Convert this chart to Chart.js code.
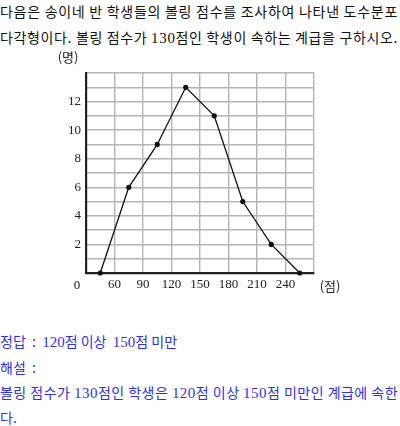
<!DOCTYPE html>
<html><head><meta charset="utf-8">
<script src="https://cdn.jsdelivr.net/npm/chart.js@4"></script>
<style>
html,body{margin:0;padding:0;background:#fff;}
body{width:400px;height:426px;position:relative;overflow:hidden;font-family:"Noto Sans CJK KR",sans-serif;}
.t{position:absolute;left:0;white-space:nowrap;font-size:14px;line-height:1;}
.s{font-family:"Liberation Serif","DejaVu Serif",serif;font-size:15px;}
.b{color:#2f2ff0;}
#wrap{position:absolute;left:0;top:0;width:400px;height:320px;}
</style></head><body>
<div class="t" id="l1" style="top:4px;color:#111">다음은 송이네 반 학생들의 볼링 점수를 조사하여 나타낸 도수분포</div>
<div class="t" id="l2" style="top:30px;color:#111">다각형이다. 볼링 점수가 <span class="s">130</span>점인 학생이 속하는 계급을 구하시오.</div>
<div id="wrap"><canvas id="c" width="400" height="320"></canvas></div>
<div class="t b" style="top:334px">정답 &nbsp;:&nbsp; <span class="s">120</span>점 이상 &nbsp;<span class="s">150</span>점 미만</div>
<div class="t b" style="top:360px">해설 &nbsp;:</div>
<div class="t b" id="l5" style="top:385px">볼링 점수가 <span class="s">130</span>점인 학생은 <span class="s">120</span>점 이상 <span class="s">150</span>점 미만인 계급에 속한</div>
<div class="t b" style="top:410px">다.</div>
<script>
// data
const classMids = [45, 75, 105, 135, 165, 195, 225, 255];
const counts = [0, 6, 9, 13, 11, 5, 2, 0];
const xTicks = [30, 60, 90, 120, 150, 180, 210, 240, 270];
const yTickLabels = [2, 4, 6, 8, 10, 12];

function fit(id, w){
  const el=document.getElementById(id);
  el.style.letterSpacing='0px';
  const n=el.textContent.length;
  const cur=el.getBoundingClientRect().width;
  el.style.letterSpacing=((w-cur)/n)+'px';
}
fit('l1',398); fit('l2',398); fit('l5',398);

const serif = "'Liberation Serif', 'DejaVu Serif', serif";
const extra = {
  id:'extra',
  afterDraw(chart){
    const ctx=chart.ctx, x=chart.scales.x, y=chart.scales.y;
    ctx.save();
    ctx.fillStyle='#222';
    ctx.font="13px "+serif;
    ctx.textAlign='center'; ctx.textBaseline='middle';
    ctx.fillText('0', x.getPixelForValue(30)-9, y.getPixelForValue(0)+13);
    ctx.font="13px 'Noto Sans CJK KR', sans-serif";
    ctx.fillText('(점)', x.getPixelForValue(270)+16, y.getPixelForValue(0)+13);
    ctx.fillText('(명)', x.getPixelForValue(30)-18, y.getPixelForValue(14)-16);
    ctx.restore();
  }
};

new Chart(document.getElementById('c'), {
  type:'line',
  data:{datasets:[{
    data: classMids.map((m,i)=>({x:m,y:counts[i]})),
    borderColor:'#111', borderWidth:1.3, pointRadius:2.6, pointBackgroundColor:'#111',
    pointBorderWidth:0, tension:0, clip:false
  }]},
  options:{
    responsive:false, animation:false, events:[],
    layout:{padding:{left:0,right:86,top:73,bottom:0}},
    plugins:{legend:{display:false},tooltip:{enabled:false}},
    scales:{
      x:{type:'linear',min:30,max:270,
        afterBuildTicks(s){ s.ticks = xTicks.map(v=>({value:v})); },
        afterFit(s){ s.height=47; },
        ticks:{font:{family:serif,size:13},color:'#222',padding:4,maxRotation:0,autoSkip:false,
          callback:(v)=> (v===30||v===270)?'':String(v)},
        grid:{display:true,color:'#b4b4b4',lineWidth:1.4,drawTicks:false,tickLength:0},
        border:{display:true,color:'#222',width:2.2}
      },
      y:{type:'linear',min:0,max:14,
        ticks:{stepSize:1,font:{family:serif,size:13},color:'#222',padding:5,autoSkip:false,
          callback:(v)=> yTickLabels.includes(v)?String(v):''},
        afterFit(s){ s.width=86; },
        grid:{display:true,color:'#b4b4b4',lineWidth:1.4,drawTicks:false,tickLength:0},
        border:{display:true,color:'#222',width:2.2}
      }
    }
  },
  plugins:[extra]
});
</script>
</body></html>
